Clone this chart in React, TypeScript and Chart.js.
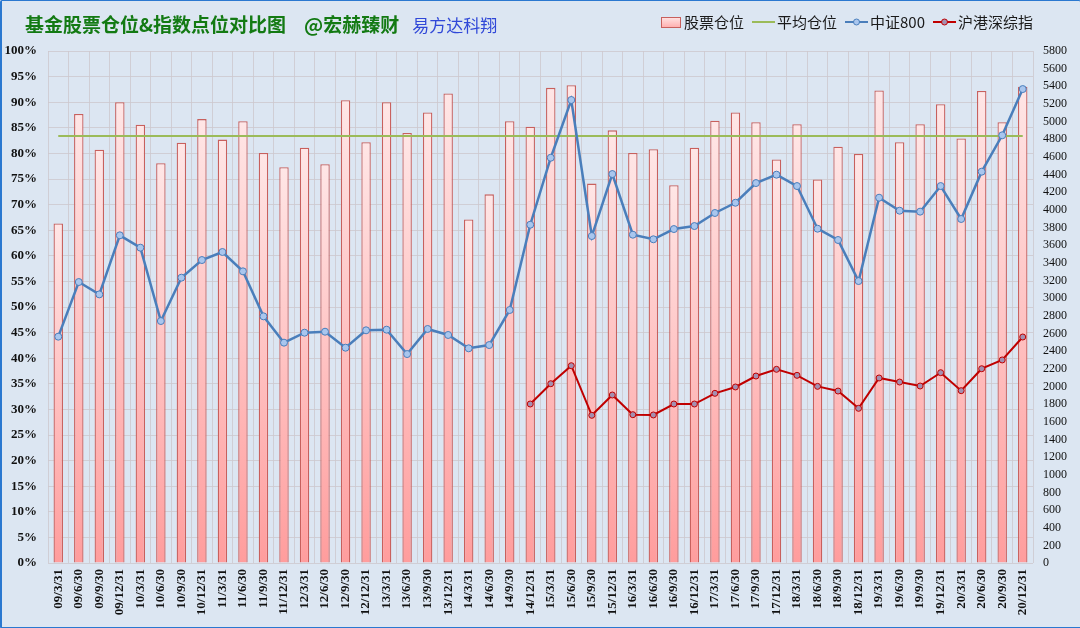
import React, { useEffect, useRef } from "react";
import { Chart, registerables } from "chart.js";

Chart.register(...registerables);

const categories = [
  "09/3/31", "09/6/30", "09/9/30", "09/12/31",
  "10/3/31", "10/6/30", "10/9/30", "10/12/31",
  "11/3/31", "11/6/30", "11/9/30", "11/12/31",
  "12/3/31", "12/6/30", "12/9/30", "12/12/31",
  "13/3/31", "13/6/30", "13/9/30", "13/12/31",
  "14/3/31", "14/6/30", "14/9/30", "14/12/31",
  "15/3/31", "15/6/30", "15/9/30", "15/12/31",
  "16/3/31", "16/6/30", "16/9/30", "16/12/31",
  "17/3/31", "17/6/30", "17/9/30", "17/12/31",
  "18/3/31", "18/6/30", "18/9/30", "18/12/31",
  "19/3/31", "19/6/30", "19/9/30", "19/12/31",
  "20/3/31", "20/6/30", "20/9/30", "20/12/31",
];

// 股票仓位 (%)
const stockPosition = [
  66.3, 87.7, 80.7, 90.0, 85.6, 78.1, 82.1, 86.7, 82.7, 86.3, 80.1, 77.3,
  81.1, 77.9, 90.4, 82.2, 90.0, 84.0, 88.0, 91.7, 67.1, 72.0, 86.3, 85.2,
  92.8, 93.3, 74.1, 84.5, 80.1, 80.8, 73.8, 81.1, 86.4, 88.0, 86.1, 78.8,
  85.7, 74.9, 81.3, 79.9, 92.3, 82.2, 85.7, 89.6, 82.9, 92.2, 86.1, 93.0,
];

// 平均仓位 (%)
const averagePosition = 83.4;

// 中证800
const csi800 = [
  2564, 3183, 3043, 3712, 3572, 2741, 3232, 3432, 3523, 3304, 2794, 2496,
  2609, 2620, 2439, 2636, 2643, 2367, 2651, 2583, 2432, 2469, 2866, 3832,
  4591, 5245, 3704, 4406, 3719, 3667, 3783, 3817, 3965, 4081, 4304, 4399,
  4270, 3787, 3659, 3194, 4138, 3991, 3980, 4270, 3897, 4433, 4845, 5369,
];

// 沪港深综指
const hkShSz: (number | null)[] = [
  null, null, null, null, null, null, null, null, null, null, null, null,
  null, null, null, null, null, null, null, null, null, null, null, 1801,
  2031, 2235, 1673, 1903, 1680, 1677, 1801, 1801, 1922, 1994, 2118, 2194,
  2126, 2001, 1948, 1752, 2096, 2050, 2005, 2156, 1952, 2201, 2300, 2560,
];

const legendItems = ["股票仓位", "平均仓位", "中证800", "沪港深综指"];

export default function App() {
  const canvasRef = useRef<HTMLCanvasElement | null>(null);

  useEffect(() => {
    document.body.style.margin = "0";
    const canvas = canvasRef.current;
    if (!canvas) return;
    const chart = new Chart(canvas, {
      type: "bar",
      data: {
        labels: categories,
        datasets: [
          {
            type: "line",
            label: legendItems[3],
            data: hkShSz,
            yAxisID: "y1",
            borderColor: "#c00000",
            borderWidth: 2,
            pointRadius: 3,
            pointBackgroundColor: "#a58fb0",
            pointBorderColor: "#c00000",
            pointBorderWidth: 1,
            spanGaps: false,
            order: 1,
          },
          {
            type: "line",
            label: legendItems[2],
            data: csi800,
            yAxisID: "y1",
            borderColor: "#4a7ebb",
            borderWidth: 2.5,
            pointRadius: 3.5,
            pointBackgroundColor: "#a9c6ee",
            pointBorderColor: "#4a7ebb",
            pointBorderWidth: 1,
            order: 2,
          },
          {
            type: "line",
            label: legendItems[1],
            data: new Array(categories.length).fill(averagePosition),
            yAxisID: "y",
            borderColor: "#9bbb59",
            borderWidth: 2,
            pointRadius: 0,
            order: 3,
          },
          {
            type: "bar",
            label: legendItems[0],
            data: stockPosition,
            yAxisID: "y",
            backgroundColor: (ctx: any) => {
              const ch = ctx.chart;
              const ys = ch && ch.scales && ch.scales.y;
              const v = typeof ctx.raw === "number" ? ctx.raw : NaN;
              if (!ys || !Number.isFinite(v)) return "#ffc4c4";
              const top = ys.getPixelForValue(v);
              const bottom = ys.bottom;
              if (!Number.isFinite(top) || !Number.isFinite(bottom) || bottom <= top) return "#ffc4c4";
              const g = ch.ctx.createLinearGradient(0, top, 0, bottom);
              g.addColorStop(0, "#ffe6e6");
              g.addColorStop(1, "#ff9d9d");
              return g;
            },
            borderColor: "#c8605d",
            borderWidth: 1.3,
            categoryPercentage: 1,
            barPercentage: 0.46,
            order: 4,
          },
        ],
      },
      options: {
        responsive: false,
        animation: false,
        layout: { padding: { top: 51, left: 0, right: 0, bottom: 0 } },
        plugins: {
          legend: { display: false },
          title: { display: false },
          tooltip: { enabled: false },
        },
        scales: {
          x: {
            grid: { color: "rgba(205,200,205,0.8)", offset: true, drawTicks: false },
            border: { display: false },
            ticks: {
              autoSkip: false,
              maxRotation: 90,
              minRotation: 90,
              padding: 6,
              color: "#111",
              font: { family: "'Liberation Serif', serif", size: 13, weight: "bold" },
            },
            afterFit: (s: any) => {
              s.height = 65;
            },
          },
          y: {
            position: "left",
            min: 0,
            max: 100,
            grid: { color: "rgba(205,200,205,0.8)", drawTicks: false },
            border: { display: false },
            ticks: {
              stepSize: 5,
              padding: 11,
              color: "#111",
              callback: (v: any) => v + "%",
              font: { family: "'Liberation Serif', serif", size: 13, weight: "bold" },
            },
            afterFit: (s: any) => {
              s.width = 48;
            },
          },
          y1: {
            position: "right",
            min: 0,
            max: 5800,
            grid: { display: false, drawTicks: false },
            border: { display: false },
            ticks: {
              stepSize: 200,
              padding: 10,
              color: "#111",
              callback: (v: any) => String(v),
              font: { family: "'Liberation Serif', serif", size: 12 },
            },
            afterFit: (s: any) => {
              s.width = 47;
            },
          },
        },
      },
    });
    return () => chart.destroy();
  }, []);

  const legendText: React.CSSProperties = {
    fontFamily: "'Noto Sans CJK SC', sans-serif",
    fontSize: 15,
    color: "#1a1a1a",
    marginRight: 8,
    lineHeight: "18px",
  };

  const lineSample = (color: string, marker: string | null) => (
    <svg width={23} height={12} style={{ marginRight: 2 }}>
      <line x1={0} y1={6} x2={23} y2={6} stroke={color} strokeWidth={2} />
      {marker && <circle cx={11.5} cy={6} r={3} fill={marker} stroke={color} strokeWidth={1} />}
    </svg>
  );

  return (
    <div
      style={{
        position: "relative",
        width: 1080,
        height: 628,
        background: "#dce6f2",
        overflow: "hidden",
      }}
    >
      <canvas ref={canvasRef} width={1080} height={628} style={{ position: "absolute", left: 0, top: 0 }} />
      <div
        style={{
          position: "absolute",
          left: 25,
          top: 11,
          whiteSpace: "nowrap",
          fontFamily: "'Noto Sans CJK SC', sans-serif",
          fontSize: 19,
          lineHeight: "26px",
        }}
      >
        <span style={{ color: "#137a13", fontWeight: "bold" }}>基金股票仓位&amp;指数点位对比图</span>
        <span style={{ color: "#137a13", fontWeight: "bold", marginLeft: 18 }}>@宏赫臻财</span>
        <span style={{ color: "#3048d8", marginLeft: 13, fontSize: 17 }}>易方达科翔</span>
      </div>
      <div
        style={{
          position: "absolute",
          left: 661,
          top: 13,
          display: "flex",
          alignItems: "center",
          whiteSpace: "nowrap",
        }}
      >
        <span
          style={{
            display: "inline-block",
            width: 18,
            height: 9,
            background: "linear-gradient(#ffe0e0, #ffb0b0)",
            border: "1.5px solid #c8605d",
            marginRight: 3,
          }}
        />
        <span style={legendText}>{legendItems[0]}</span>
        {lineSample("#9bbb59", null)}
        <span style={legendText}>{legendItems[1]}</span>
        {lineSample("#4a7ebb", "#a9c6ee")}
        <span style={legendText}>{legendItems[2]}</span>
        {lineSample("#c00000", "#a58fb0")}
        <span style={legendText}>{legendItems[3]}</span>
      </div>
      <div
        style={{
          position: "absolute",
          left: 0,
          top: 0,
          width: 1078,
          height: 626,
          border: "1px solid #2a78d0",
          borderLeftWidth: 2,
          borderBottomWidth: 2,
          borderRadius: 2,
          pointerEvents: "none",
          boxSizing: "content-box",
        }}
      />
    </div>
  );
}
